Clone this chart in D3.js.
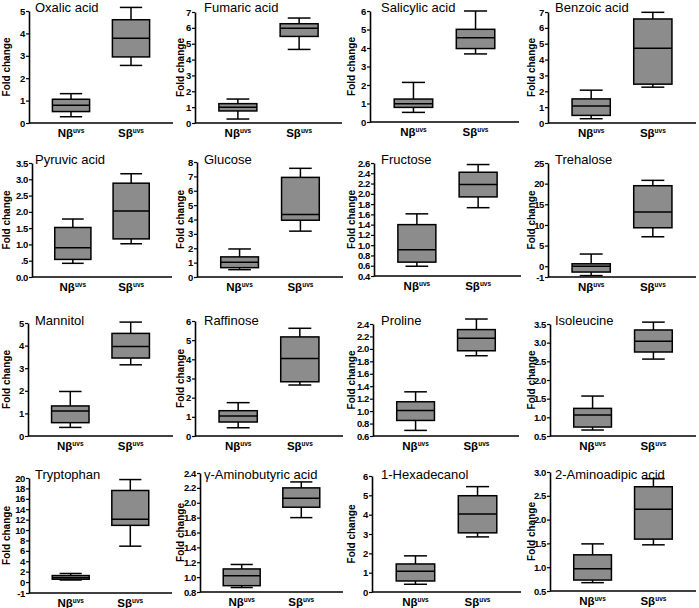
<!DOCTYPE html>
<html>
<head>
<meta charset="utf-8">
<script src="https://cdn.jsdelivr.net/npm/d3@7"></script>
<style>
  html, body { margin: 0; padding: 0; background: #fff; }
  svg { display: block; }
  text { font-family: "Liberation Sans", Arial, sans-serif; }
</style>
</head>
<body>
<script>
// ---------- data ----------
const groups = ["Nβ", "Sβ"];
const titles = ["Oxalic acid", "Fumaric acid", "Salicylic acid", "Benzoic acid",
  "Pyruvic acid", "Glucose", "Fructose", "Trehalose",
  "Mannitol", "Raffinose", "Proline", "Isoleucine",
  "Tryptophan", "γ-Aminobutyric acid", "1-Hexadecanol", "2-Aminoadipic acid"];
// [min, q1, median, q3, max]
const statsN = [
  [0.28, 0.51, 0.79, 1.06, 1.31], [0.25, 0.76, 0.99, 1.22, 1.51], [0.52, 0.79, 0.99, 1.24, 2.14], [0.27, 0.48, 1.07, 1.52, 2.07],
  [0.42, 0.54, 0.90, 1.52, 1.78], [0.51, 0.65, 1.02, 1.40, 1.95], [0.59, 0.67, 0.91, 1.40, 1.61], [-2.26, -1.4, 0.0, 0.6, 2.96],
  [0.38, 0.59, 1.11, 1.33, 1.97], [0.43, 0.73, 1.04, 1.32, 1.74], [0.69, 0.85, 1.01, 1.15, 1.31], [0.66, 0.74, 1.06, 1.24, 1.57],
  [0.40, 0.55, 0.85, 1.25, 1.65], [0.86, 0.885, 1.02, 1.11, 1.17], [0.40, 0.57, 1.07, 1.45, 1.87], [0.675, 0.73, 0.97, 1.26, 1.49]
];
const statsS = [
  [2.57, 2.95, 3.78, 4.61, 5.16], [4.64, 5.46, 5.97, 6.26, 6.62], [3.68, 3.97, 4.56, 5.01, 6.0], [2.26, 2.45, 4.72, 6.56, 6.98],
  [1.02, 1.17, 2.03, 2.88, 3.17], [3.19, 3.95, 4.35, 6.93, 7.56], [1.73, 1.94, 2.18, 2.42, 2.57], [7.14, 9.32, 13.15, 19.5, 20.8],
  [3.15, 3.45, 3.96, 4.54, 5.04], [2.66, 2.83, 4.05, 5.17, 5.62], [1.89, 1.97, 2.17, 2.31, 2.48], [2.56, 2.75, 3.04, 3.34, 3.55],
  [6.9, 10.9, 12.05, 17.6, 19.7], [1.80, 1.94, 2.06, 2.20, 2.28], [2.85, 3.06, 4.03, 4.98, 5.45], [1.47, 1.59, 2.22, 2.69, 2.86]
];
const yDomains = [
  [0, 5], [0, 7], [0, 6], [0, 7],
  [0, 3.5], [0, 8], [0.4, 2.6], [-2.6, 25],
  [0, 5], [0, 6], [0.6, 2.4], [0.5, 3.5],
  [-2.1, 20], [0.8, 2.4], [0, 6], [0.5, 3.0]
];
// tick positions (the "-1" label of Trehalose / Tryptophan sits at the axis start)
const yTickValues = [
  [0, 1, 2, 3, 4, 5], [0, 1, 2, 3, 4, 5, 6, 7], [0, 1, 2, 3, 4, 5, 6], [0, 1, 2, 3, 4, 5, 6, 7],
  [0, 0.5, 1, 1.5, 2, 2.5, 3, 3.5], [0, 1, 2, 3, 4, 5, 6, 7, 8],
  [0.4, 0.6, 0.8, 1.0, 1.2, 1.4, 1.6, 1.8, 2.0, 2.2, 2.4, 2.6], [-2.6, 0, 5, 10, 15, 20, 25],
  [0, 1, 2, 3, 4, 5], [0, 1, 2, 3, 4, 5, 6],
  [0.6, 0.8, 1.0, 1.2, 1.4, 1.6, 1.8, 2.0, 2.2, 2.4], [0.5, 1.0, 1.5, 2.0, 2.5, 3.0, 3.5],
  [-2.1, 0, 2, 4, 6, 8, 10, 12, 14, 16, 18, 20], [0.8, 1.0, 1.2, 1.4, 1.6, 1.8, 2.0, 2.2, 2.4],
  [0, 1, 2, 3, 4, 5, 6], [0.5, 1.0, 1.5, 2.0, 2.5, 3.0]
];
const yTickLabels = [
  ["0","1","2","3","4","5"], ["0","1","2","3","4","5","6","7"], ["0","1","2","3","4","5","6"], ["0","1","2","3","4","5","6","7"],
  ["0.0",".5","1.0","1.5","2.0","2.5","3.0","3.5"], ["0","1","2","3","4","5","6","7","8"],
  ["0.4","0.6","0.8","1.0","1.2","1.4","1.6","1.8","2.0","2.2","2.4","2.6"], ["-1","0","5","10","15","20","25"],
  ["0","1","2","3","4","5"], ["0","1","2","3","4","5","6"],
  ["0.6","0.8","1.0","1.2","1.4","1.6","1.8","2.0","2.2","2.4"], ["0.5","1.0","1.5","2.0","2.5","3.0","3.5"],
  ["-1","0","2","4","6","8","10","12","14","16","18","20"], ["0.8","1.0","1.2","1.4","1.6","1.8","2.0","2.2","2.4"],
  ["0","1","2","3","4","5","6"], ["0.5","1.0","1.5","2.0","2.5","3.0"]
];
const yLabel = "Fold change";
const groupSup = "uvs";

// ---------- layout (pixels) ----------
// [axis x, axis right x, top y, bottom y]
const layout = [
  [29, 173, 11, 123], [195, 342, 12, 123], [370, 519, 11, 122], [548, 696, 12, 123],
  [32, 172, 163, 277], [197, 343, 162, 277], [374, 521, 163, 276], [548, 696, 163, 277],
  [28, 173, 323, 436], [195, 343, 321, 436], [373, 519, 324, 436], [550, 696, 324, 436],
  [29, 172, 478, 593], [200, 343, 473, 592], [372, 521, 476, 592], [550, 696, 472, 591]
];
const titleX = [35, 204, 381, 555];
const titleY = [12, 164, 325, 479];
const ylabX = [6, 180, 351, 531];

const svg = d3.select("body").append("svg").attr("width", 699).attr("height", 608);

titles.forEach((t, i) => {
  const [ax, ar, yt, yb] = layout[i];
  const col = i % 4, row = Math.floor(i / 4);
  const g = svg.append("g");
  const y = d3.scaleLinear().domain(yDomains[i]).range([yb, yt]);
  const x = d3.scalePoint().domain(groups).range([ax, ar]).padding(0.7);
  const boxW = x.step() * 0.62;
  const capW = boxW * 0.6;

  const yAxis = d3.axisLeft(y).tickValues(yTickValues[i]).tickFormat((d, j) => yTickLabels[i][j])
    .tickSize(3).tickSizeOuter(0).tickPadding(1);
  const ya = g.append("g").attr("transform", `translate(${ax},0)`).call(yAxis);
  ya.select(".domain").attr("stroke", "#000").attr("stroke-width", 1.6);
  ya.selectAll(".tick line").attr("stroke", "#000").attr("stroke-width", 1.2);
  ya.selectAll(".tick text").attr("font-family", "Liberation Sans, Arial, sans-serif")
    .attr("font-size", 9.5).attr("font-weight", "bold").attr("fill", "#000").attr("letter-spacing", -0.4);

  const xAxis = d3.axisBottom(x).tickSize(0).tickSizeOuter(0).tickFormat("");
  const xa = g.append("g").attr("transform", `translate(0,${yb})`).call(xAxis);
  xa.select(".domain").attr("stroke", "#000").attr("stroke-width", 1.6)
    .attr("d", `M${ax},0H${ar}`);

  // x labels
  groups.forEach(gr => {
    const tx = g.append("text").attr("x", x(gr)).attr("y", yb + 14)
      .attr("text-anchor", "middle").attr("font-weight", "bold").attr("font-size", 11.5);
    tx.append("tspan").text(gr);
    tx.append("tspan").text(groupSup).attr("font-size", 6.5).attr("dy", -4);
  });

  // y label
  const my = (yt + yb) / 2;
  g.append("text").attr("transform", `translate(${ylabX[col]},${my}) rotate(-90)`)
    .attr("text-anchor", "middle").attr("dominant-baseline", "central")
    .attr("font-weight", "bold").attr("font-size", 10).text(yLabel);

  // title
  g.append("text").attr("x", titleX[col]).attr("y", titleY[row])
    .attr("font-size", 13).attr("fill", "#000").text(t);

  // boxes
  [[groups[0], statsN[i]], [groups[1], statsS[i]]].forEach(([gr, s]) => {
    const cx = x(gr);
    const [mn, q1, md, q3, mx] = s;
    const bg = g.append("g").attr("stroke", "#000").attr("stroke-width", 1.5);
    bg.append("line").attr("x1", cx).attr("x2", cx).attr("y1", y(mn)).attr("y2", y(q1));
    bg.append("line").attr("x1", cx).attr("x2", cx).attr("y1", y(q3)).attr("y2", y(mx));
    bg.append("line").attr("x1", cx - capW / 2).attr("x2", cx + capW / 2).attr("y1", y(mn)).attr("y2", y(mn));
    bg.append("line").attr("x1", cx - capW / 2).attr("x2", cx + capW / 2).attr("y1", y(mx)).attr("y2", y(mx));
    bg.append("rect").attr("x", cx - boxW / 2).attr("width", boxW)
      .attr("y", y(q3)).attr("height", y(q1) - y(q3)).attr("fill", "#8c8c8c");
    bg.append("line").attr("x1", cx - boxW / 2).attr("x2", cx + boxW / 2).attr("y1", y(md)).attr("y2", y(md));
  });
});
</script>
</body>
</html>
